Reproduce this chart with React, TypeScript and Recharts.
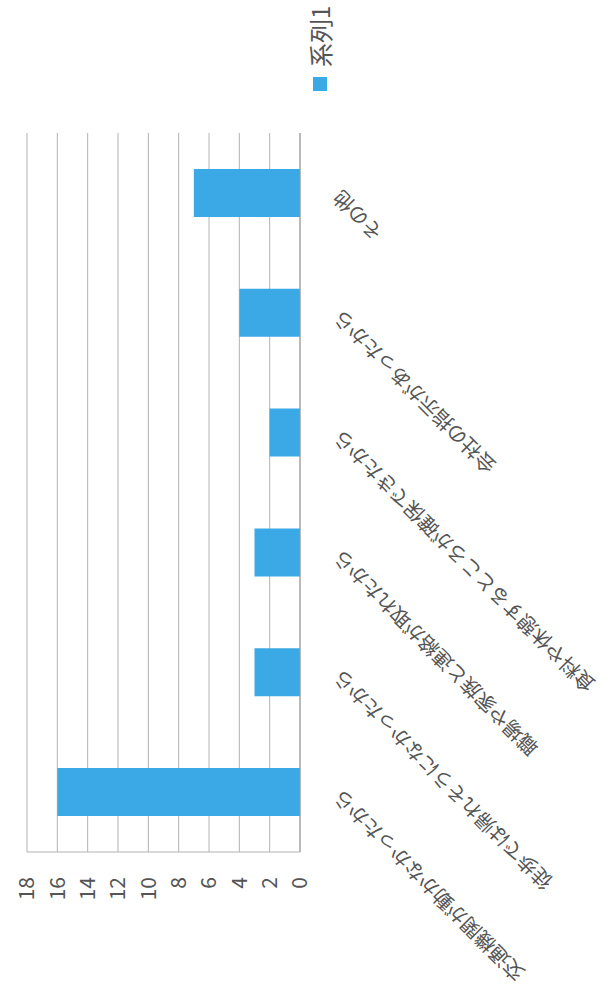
import { BarChart, Bar, XAxis, YAxis, CartesianGrid, Legend } from 'recharts'

// reasons (left to right in the unrotated chart)
const categories = [
  '交通機関が動かなかったから',
  '徒歩では帰れそうになかったから',
  '職場や家族と連絡が取れたから',
  '食料や休憩するところが確保できたから',
  '会社の指示があったから',
  'その他',
]
const series1 = [16, 3, 3, 2, 4, 7]
const valueTicks = [0, 2, 4, 6, 8, 10, 12, 14, 16, 18]
const seriesName = '系列1'

const data = categories.map((name, i) => ({ name, value: series1[i] }))

const FONT = '"Noto Sans CJK JP", "Noto Sans", sans-serif'
const TEXT = '#555'
const BAR = '#3aa9e6'

function CategoryTick(props: any) {
  const { x, y, payload } = props
  return (
    <g transform={`translate(${x},${y + 30})`}>
      <text
        transform="rotate(-45)"
        textAnchor="end"
        dominantBaseline="middle"
        fontSize={20}
        fill={TEXT}
        fontFamily={FONT}
      >
        {payload.value}
      </text>
    </g>
  )
}

function LegendBox(props: any) {
  const items = props.payload || []
  return (
    <div style={{ whiteSpace: 'nowrap' }}>
      {items.map((it: any) => (
        <div key={it.value} style={{ display: 'flex', alignItems: 'center' }}>
          <span style={{ width: 14, height: 14, background: it.color, marginRight: 10 }} />
          <span style={{ color: TEXT, fontSize: 24, lineHeight: '30px' }}>{it.value}</span>
        </div>
      ))}
    </div>
  )
}

export default function App() {
  // the scanned chart is turned a quarter turn counter-clockwise
  return (
    <div
      style={{
        position: 'absolute',
        left: 0,
        top: 0,
        width: 615,
        height: 999,
        overflow: 'hidden',
        background: '#fff',
        fontFamily: FONT,
      }}
    >
      <div
        style={{
          width: 999,
          height: 615,
          transformOrigin: '0 0',
          transform: 'translate(0px, 999px) rotate(-90deg)',
        }}
      >
        <BarChart
          width={999}
          height={615}
          data={data}
          margin={{ top: 27, right: 133, bottom: 0, left: 0 }}
          barCategoryGap="30%"
        >
          <CartesianGrid vertical={false} stroke="#b3b3b3" />
          <XAxis
            dataKey="name"
            height={315}
            interval={0}
            tickLine={false}
            axisLine={{ stroke: '#999' }}
            tick={<CategoryTick />}
          />
          <YAxis
            width={147}
            domain={[0, 18]}
            ticks={valueTicks}
            interval={0}
            tickLine={false}
            tickMargin={19}
            axisLine={{ stroke: '#b3b3b3' }}
            tick={{ fill: TEXT, fontSize: 21, fontFamily: FONT }}
          />
          <Legend
            layout="vertical"
            align="center"
            verticalAlign="middle"
            content={<LegendBox />}
            wrapperStyle={{ left: 908, top: 305, width: 'auto' }}
          />
          <Bar dataKey="value" name={seriesName} fill={BAR} isAnimationActive={false} />
        </BarChart>
      </div>
    </div>
  )
}
